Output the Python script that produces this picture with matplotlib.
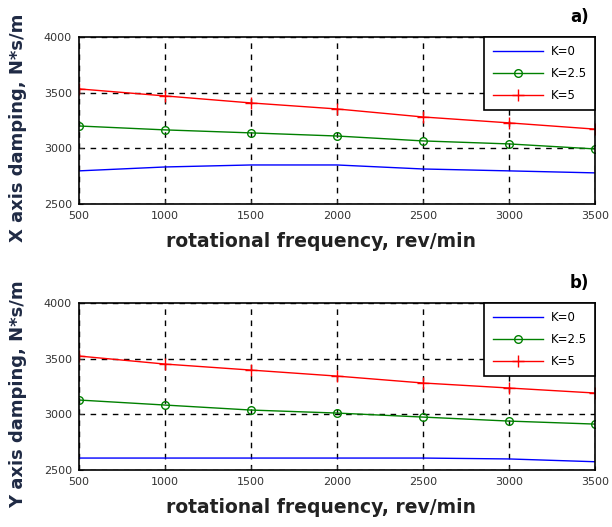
import matplotlib.pyplot as plt

# rotational frequency, rev/min
freq = [500, 1000, 1500, 2000, 2500, 3000, 3500]

# a) X axis damping
x_k0 = [2797, 2832, 2850, 2850, 2814, 2797, 2779]
x_k25 = [3200, 3165, 3138, 3110, 3066, 3039, 2994]
x_k5 = [3533, 3470, 3407, 3353, 3281, 3228, 3172]

# b) Y axis damping
y_k0 = [2608, 2608, 2608, 2608, 2608, 2600, 2575]
y_k25 = [3129, 3084, 3039, 3012, 2976, 2940, 2913]
y_k5 = [3524, 3452, 3398, 3344, 3282, 3237, 3192]

labels = ['K=0', 'K=2.5', 'K=5']
xticks = [500, 1000, 1500, 2000, 2500, 3000, 3500]
yticks = [2500, 3000, 3500, 4000]

plt.rcParams['font.family'] = ['DejaVu Sans']

fig = plt.figure(figsize=(6.12, 5.27), dpi=100)
ax1 = fig.add_axes([0.129, 0.613, 0.843, 0.317])
ax2 = fig.add_axes([0.129, 0.108, 0.843, 0.317])


def draw(ax, k0, k25, k5, ylab, tag):
    ax.plot(freq, k0, color='blue', lw=1.0, label=labels[0])
    ax.plot(freq, k25, color='green', lw=1.0, marker='o', ms=5.5,
            mfc='none', mew=1.0, label=labels[1])
    ax.plot(freq, k5, color='red', lw=1.0, marker='+', ms=8,
            mew=1.0, label=labels[2])
    ax.set_xlim(500, 3500)
    ax.set_ylim(2500, 4000)
    ax.set_xticks(xticks)
    ax.set_yticks(yticks)
    ax.grid(True, color='black', linestyle=(0, (4, 4)), linewidth=1.0)
    ax.tick_params(labelsize=8, colors='#333333', direction='in', length=3,
                   pad=5)
    for s in ax.spines.values():
        s.set_linewidth(1.2)
    # axis labels
    ax.set_xlabel('rotational frequency, rev/min', fontsize=13.5,
                  fontweight='bold', color='#222222')
    ax.xaxis.set_label_coords(0.47, -0.17)
    ax.set_ylabel(ylab, fontsize=13, fontweight='bold', color='#1f2a44')
    ax.yaxis.set_label_coords(-0.1, 0.455)
    leg = ax.legend(loc='upper right', fontsize=8.5, frameon=True,
                    fancybox=False, framealpha=1, borderaxespad=0,
                    handlelength=4.3, labelspacing=0.75, borderpad=0.7,
                    handletextpad=0.6)
    leg.get_frame().set_edgecolor('black')
    leg.get_frame().set_linewidth(1.2)
    ax.text(0.97, 1.12, tag, transform=ax.transAxes, fontsize=12,
            fontweight='bold', ha='center', va='center')


draw(ax1, x_k0, x_k25, x_k5, 'X axis damping, N*s/m', 'a)')
draw(ax2, y_k0, y_k25, y_k5, 'Y axis damping, N*s/m', 'b)')

fig.savefig('out.png', dpi=100)
